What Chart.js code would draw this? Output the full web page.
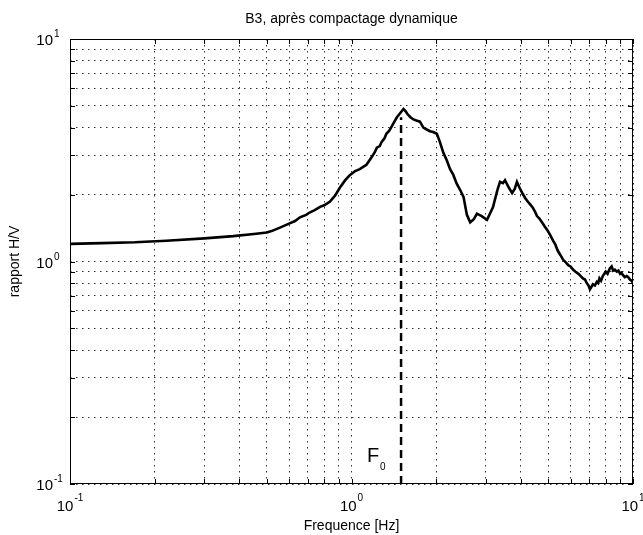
<!DOCTYPE html>
<html lang="fr">
<head>
  <meta charset="UTF-8">
  <title>B3, après compactage dynamique</title>
  <style>
    html, body { margin: 0; padding: 0; background: #fff; }
    #wrap { width: 643px; height: 535px; }
  </style>
  <script src="https://cdn.jsdelivr.net/npm/chart.js@4.4.0/dist/chart.umd.min.js"></script>
</head>
<body>
  <div id="wrap"><canvas id="hv"></canvas></div>

  <script>
    // H/V spectral ratio
    const freq = [0.1, 0.13, 0.17, 0.22, 0.3, 0.38, 0.45, 0.5, 0.52, 0.557, 0.6, 0.63, 0.656, 0.69, 0.71, 0.74,
      0.773, 0.8, 0.839, 0.86, 0.875, 0.91, 0.95, 0.988, 1.01, 1.03, 1.07, 1.1, 1.13, 1.18, 1.21, 1.23, 1.26,
      1.28, 1.31, 1.33, 1.36, 1.39, 1.42, 1.45, 1.5, 1.53, 1.56, 1.58, 1.62, 1.66, 1.7, 1.75, 1.8, 1.85, 1.9,
      1.95, 2.01, 2.06, 2.12, 2.18, 2.24, 2.3, 2.36, 2.43, 2.5, 2.57, 2.64, 2.72, 2.79, 2.9, 3.03, 3.18, 3.3,
      3.37, 3.45, 3.51, 3.62, 3.72, 3.8, 3.87, 3.95, 4.07, 4.15, 4.24, 4.32, 4.4, 4.48, 4.56, 4.65, 4.75, 4.85,
      4.95, 5.07, 5.2, 5.3, 5.4, 5.52, 5.64, 5.77, 5.9, 6.0, 6.12, 6.25, 6.4, 6.52, 6.64, 6.75, 6.85, 6.95,
      7.03, 7.12, 7.2, 7.32, 7.44, 7.52, 7.6, 7.7, 7.81, 7.9, 8.0, 8.12, 8.27, 8.4, 8.5, 8.62, 8.76, 8.88,
      9.0, 9.1, 9.2, 9.35, 9.5, 9.62, 9.75, 9.88, 10];
    const ratio = [1.20, 1.21, 1.22, 1.24, 1.27, 1.30, 1.33, 1.35, 1.37, 1.42, 1.48, 1.52, 1.58, 1.62, 1.66,
      1.70, 1.76, 1.79, 1.86, 1.93, 1.98, 2.15, 2.32, 2.45, 2.50, 2.55, 2.60, 2.66, 2.72, 2.95, 3.10, 3.25,
      3.30, 3.45, 3.58, 3.75, 3.86, 4.05, 4.25, 4.45, 4.7, 4.85, 4.72, 4.6, 4.45, 4.35, 4.3, 4.25, 4.0, 3.92,
      3.85, 3.82, 3.75, 3.45, 3.08, 2.85, 2.6, 2.45, 2.25, 2.1, 1.95, 1.62, 1.50, 1.55, 1.64, 1.60, 1.54, 1.75,
      2.10, 2.28, 2.25, 2.32, 2.15, 2.03, 2.12, 2.28, 2.15, 2.0, 1.92, 1.85, 1.80, 1.75, 1.68, 1.60, 1.56, 1.50,
      1.44, 1.39, 1.32, 1.24, 1.19, 1.12, 1.07, 1.02, 0.99, 0.96, 0.95, 0.92, 0.90, 0.88, 0.86, 0.84, 0.83,
      0.80, 0.78, 0.75, 0.77, 0.79, 0.78, 0.81, 0.80, 0.84, 0.82, 0.86, 0.88, 0.90, 0.88, 0.93, 0.95, 0.91,
      0.92, 0.90, 0.91, 0.88, 0.89, 0.87, 0.85, 0.86, 0.85, 0.83, 0.82, 0.80, 0.79];

    // fundamental frequency marker
    const f0 = 1.5;
    const f0Top = 4.45;

    // axes: grid at 1..9 per decade, labels only at decades
    const gridTicks = [0.1, 0.2, 0.3, 0.4, 0.5, 0.6, 0.7, 0.8, 0.9, 1, 2, 3, 4, 5, 6, 7, 8, 9, 10];
    const decadeValues = [0.1, 1, 10];
    const decadeExps = ['-1', '0', '1'];

    const title = 'B3, après compactage dynamique';
    const xTitle = 'Frequence [Hz]';
    const yTitle = 'rapport H/V';

    const FONT = '"Liberation Sans", Arial, sans-serif';

    function setTicks(scale) {
      scale.ticks = gridTicks.map(v => ({ value: v }));
    }

    // box, inward tick marks and the text MATLAB-style
    const decorations = {
      id: 'decorations',
      afterDraw(chart) {
        const { ctx, chartArea: a, scales: { x, y } } = chart;
        ctx.save();
        ctx.strokeStyle = '#000';
        ctx.lineWidth = 1;
        ctx.setLineDash([]);
        ctx.strokeRect(a.left + 0.5, a.top + 0.5, a.width - 1, a.height - 1);

        ctx.beginPath();
        gridTicks.forEach(v => {
          const px = Math.round(x.getPixelForValue(v)) + 0.5;
          ctx.moveTo(px, a.bottom); ctx.lineTo(px, a.bottom - 5);
          ctx.moveTo(px, a.top); ctx.lineTo(px, a.top + 5);
          const py = Math.round(y.getPixelForValue(v)) + 0.5;
          ctx.moveTo(a.left, py); ctx.lineTo(a.left + 5, py);
          ctx.moveTo(a.right, py); ctx.lineTo(a.right - 5, py);
        });
        ctx.stroke();

        ctx.fillStyle = '#000';
        ctx.textBaseline = 'alphabetic';
        decadeValues.forEach((v, i) => {
          const e = decadeExps[i];
          // y axis
          const py = y.getPixelForValue(v);
          ctx.font = '15px ' + FONT;
          ctx.textAlign = 'right';
          ctx.fillText('10', a.left - 17, py + 6);
          ctx.font = '10px ' + FONT;
          ctx.textAlign = 'left';
          ctx.fillText(e, a.left - 16, py - 2);
          // x axis
          const px = x.getPixelForValue(v);
          ctx.font = '15px ' + FONT;
          const w1 = ctx.measureText('10').width;
          ctx.font = '10px ' + FONT;
          const w2 = ctx.measureText(e).width;
          const x0 = px - (w1 + w2 + 1) / 2;
          ctx.font = '15px ' + FONT;
          ctx.fillText('10', x0, a.bottom + 27);
          ctx.font = '10px ' + FONT;
          ctx.fillText(e, x0 + w1 + 1, a.bottom + 17);
        });

        // titles
        const cx = (a.left + a.right) / 2;
        ctx.font = '14px ' + FONT;
        ctx.textAlign = 'center';
        ctx.textBaseline = 'middle';
        ctx.fillText(title, cx, 19);
        ctx.fillText(xTitle, cx, 526);
        ctx.save();
        ctx.translate(15, (a.top + a.bottom) / 2);
        ctx.rotate(-Math.PI / 2);
        ctx.fillText(yTitle, 0, 0);
        ctx.restore();

        // F0 label next to the dashed line
        const fx = x.getPixelForValue(f0);
        ctx.textAlign = 'left';
        ctx.textBaseline = 'alphabetic';
        ctx.font = '20px ' + FONT;
        ctx.fillText('F', fx - 34, a.bottom - 22);
        ctx.font = '10px ' + FONT;
        ctx.fillText('0', fx - 21, a.bottom - 14);
        ctx.restore();
      }
    };

    new Chart(document.getElementById('hv'), {
      type: 'line',
      data: {
        datasets: [
          {
            data: freq.map((f, i) => ({ x: f, y: ratio[i] })),
            borderColor: '#000',
            borderWidth: 2.6,
            pointRadius: 0,
            tension: 0
          },
          {
            data: [{ x: f0, y: 0.1 }, { x: f0, y: f0Top }],
            borderColor: '#000',
            borderWidth: 2.5,
            borderDash: [8, 5],
            pointRadius: 0
          }
        ]
      },
      options: {
        responsive: true,
        maintainAspectRatio: false,
        animation: false,
        layout: { padding: { top: 39, right: 10 } },
        plugins: {
          legend: { display: false },
          tooltip: { enabled: false },
          title: { display: false }
        },
        scales: {
          x: {
            type: 'logarithmic',
            min: 0.1,
            max: 10,
            afterBuildTicks: setTicks,
            afterFit: s => { s.height = 51; },
            ticks: { display: false },
            grid: { color: '#333', lineWidth: 1, drawTicks: false },
            border: { display: false, dash: [1.5, 4.5] }
          },
          y: {
            type: 'logarithmic',
            min: 0.1,
            max: 10,
            afterBuildTicks: setTicks,
            afterFit: s => { s.width = 70; },
            ticks: { display: false },
            grid: { color: '#333', lineWidth: 1, drawTicks: false },
            border: { display: false, dash: [1.5, 4.5] }
          }
        }
      },
      plugins: [decorations]
    });
  </script>
</body>
</html>
